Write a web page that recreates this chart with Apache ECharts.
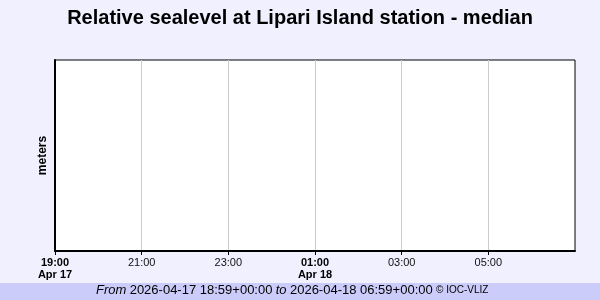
<!DOCTYPE html>
<html><head><meta charset="utf-8">
<script src="https://cdn.jsdelivr.net/npm/echarts@6/dist/echarts.min.js"></script>
<style>html,body{margin:0;padding:0;background:#f0f0ff;}#c{width:600px;height:300px;}</style>
</head><body><div id="c"></div>
<script>
const titleText = 'Relative sealevel at Lipari Island station - median';
const yName = 'meters';
// hours after 2026-04-17 19:00 UTC
const tickHours = [0, 2, 4, 6, 8, 10];
const tickLabels = ['19:00|Apr 17', '21:00', '23:00', '01:00|Apr 18', '03:00', '05:00'];
const seriesTimes = [];   // no data in the reference
const seriesValues = [];
const fromText = '2026-04-17 18:59+00:00';
const toText = '2026-04-18 06:59+00:00';
const credit = '© IOC-VLIZ';

const chart = echarts.init(document.getElementById('c'), null, {renderer: 'canvas'});
const F = '"Liberation Sans", Arial, sans-serif';
chart.setOption({
  animation: false,
  backgroundColor: '#f0f0ff',
  title: {
    text: titleText, left: 'center', top: 3,
    textStyle: {fontFamily: F, fontSize: 20, fontWeight: 'bold', color: '#000'}
  },
  grid: {left: 55, right: 25, top: 60, bottom: 49, show: true, backgroundColor: '#fff', borderColor: '#000', borderWidth: 1},
  xAxis: {
    type: 'value', min: 0, max: 12, interval: 2,
    axisLine: {show: true, lineStyle: {color: '#000', width: 2}},
    axisTick: {show: true, length: 4, customValues: tickHours, lineStyle: {color: '#000', width: 1}},
    splitLine: {show: true, lineStyle: {color: '#cccccc', width: 1}},
    axisLabel: {
      margin: 6, fontFamily: F, fontSize: 11, color: '#111', lineHeight: 12,
      customValues: tickHours,
      formatter: function (v) {
        const i = tickHours.indexOf(v);
        const s = i >= 0 ? tickLabels[i] : '';
        if (s.indexOf('|') >= 0) { const p = s.split('|'); return '{b|' + p[0] + '}\n{b|' + p[1] + '}'; }
        return s;
      },
      rich: {b: {fontFamily: F, fontSize: 11, fontWeight: 'bold', color: '#000', lineHeight: 12}}
    }
  },
  yAxis: {
    type: 'value', min: 0, max: 1,
    name: yName, nameLocation: 'middle', nameGap: 6,
    nameTextStyle: {fontFamily: F, fontSize: 12, fontWeight: 'bold', color: '#000'},
    axisLine: {show: true, lineStyle: {color: '#000', width: 2}},
    axisTick: {show: false}, axisLabel: {show: false}, splitLine: {show: false}
  },
  series: [{type: 'line', data: seriesTimes.map((t, i) => [t, seriesValues[i]]), showSymbol: false, lineStyle: {color: '#0000ff', width: 1}}],
  graphic: [
    {type: 'rect', left: 0, top: 283, shape: {width: 600, height: 17}, style: {fill: '#ccccfa'}, z: -1},
    {type: 'text', left: 96, top: 284,
      style: {
        text: '{i|From} {n|' + fromText + '} {i|to} {n|' + toText + '} {s|' + credit + '}',
        rich: {
          i: {fontFamily: F, fontSize: 13, fontStyle: 'italic', fill: '#000'},
          n: {fontFamily: F, fontSize: 13, fill: '#000'},
          s: {fontFamily: F, fontSize: 10, fill: '#000'}
        }
      }}
  ]
});
</script></body></html>
